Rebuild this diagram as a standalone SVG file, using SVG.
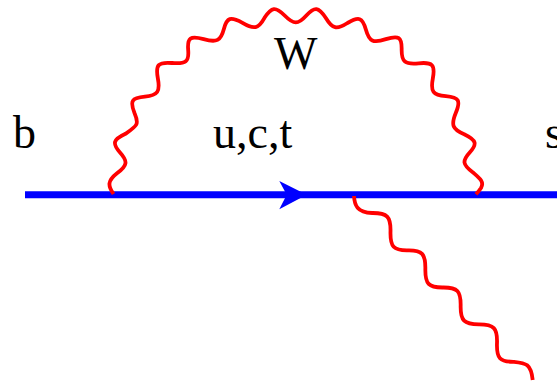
<svg xmlns="http://www.w3.org/2000/svg" width="557" height="382" viewBox="0 0 557 382">
<style>
.l{font-family:"Liberation Serif","Times New Roman",serif;font-size:46px;fill:#000}
.ph{fill:none;stroke:#f00;stroke-width:3.8;stroke-linecap:butt}
</style>
<rect width="557" height="382" fill="#fff"/>
<g id="connectors">
<path id="fermion" d="M25 194.8H557" fill="none" stroke="#00f" stroke-width="7"/>
<path id="arrow" d="M279.3 181L306.7 194.8L279.3 209.3L286.7 194.8Z" fill="#00f"/>
<path id="w-boson" class="ph" d="M113.5 194C108 186 107 181 117.3 173C127.46 165.4 128 161.3 120 152.5C112 143.3 113.1 139.57 125.5 133.85C137.5 125.63 139.3 124.2 134.5 113C129.7 101 131.77 97.73 144.85 96.65C157.77 95.33 160.37 91.66 157.85 78.3C155.33 64.86 158.16 61.8 172 63C186 64.2 189.23 61.54 188.15 49.7C187.23 37.7 190.33 35.6 203.65 39.2C216.73 42.8 220.76 40.8 223.8 29.2C226.76 17.44 230.5 16.17 242.5 22.85C254.1 29.77 258.5 28.77 264.5 17.85C271.54 6.77 275.57 6.3 284.65 15.5C293.73 24.7 298.07 24.7 306.35 15.5C314.63 6.3 318.53 6.8 325.85 18C332.37 28.96 336.7 29.96 347.5 23C358.86 16.2 362.53 17.5 365.85 29.5C369.17 41.5 373.17 43.43 385.85 39.15C398.77 35.03 401.93 37.13 401.65 49.65C401.53 61.93 404.93 64.66 418.65 63.3C432.53 61.86 435.37 64.86 432.85 78.3C430.33 91.66 432.93 95.23 445.85 96.15C458.93 97.23 460.93 100.57 455.85 112.85C450.77 125 452.44 129.24 464.2 134.2C476.44 140.2 477.54 143.86 469.7 152.5C461.94 160.9 462.6 164.9 473 172.5C480 178.5 484.5 182 481 188Q479 191 476 194.3"/>
<path id="photon" class="ph" d="M354 196C354.5 205 357 212.5 372.15 213C387.23 212.84 390.9 216.57 390.5 231.65C390.1 246.9 393.57 250.63 407.85 250.35C422.13 250.07 425.63 253.77 425.35 268.85C425.07 283.93 428.6 287.66 443 287.5C457.4 287.34 460.93 291.01 460.65 305.85C460.37 320.69 464.04 324.39 479 324.35C493.96 324.31 497.56 328.07 497 343.15C496.44 358.23 499.84 361.96 514 361.8C526 363 531 364 532.7 380"/>
</g>
<g id="label-b"><text class="l" x="13" y="148">b</text></g>
<g id="label-uct"><text class="l" x="213" y="148">u,c,t</text></g>
<g id="label-W"><text class="l" x="274" y="69">W</text></g>
<g id="label-s"><text class="l" x="545" y="148">s</text></g>
</svg>
